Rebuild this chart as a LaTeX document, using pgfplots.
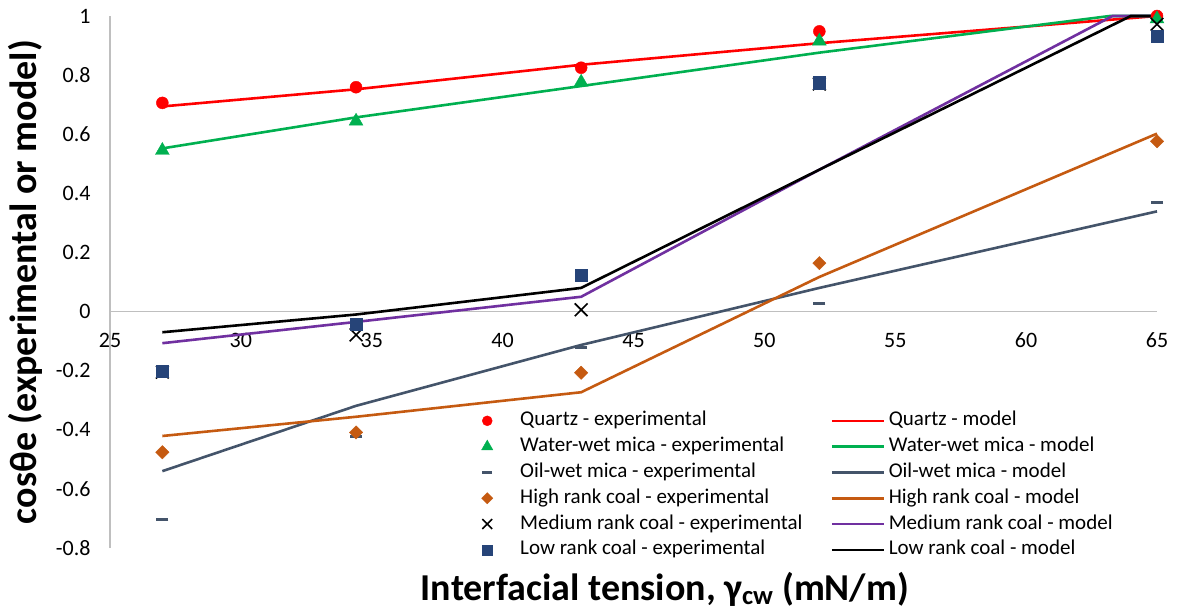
\documentclass[border=0pt]{standalone}
\usepackage{fontspec}
\setmainfont{Carlito}
\usepackage{pgfplots}
\pgfplotsset{compat=1.18}
\definecolor{cQ}{HTML}{FF0000}
\definecolor{cW}{HTML}{00B050}
\definecolor{cO}{HTML}{44546A}
\definecolor{cH}{HTML}{C55A11}
\definecolor{cM}{HTML}{7030A0}
\definecolor{cL}{HTML}{264478}
\definecolor{axgray}{HTML}{BFBFBF}
\pgfplotsset{
  expleg/.style={legend image code/.code={\path[draw=none,fill=none] (0pt,-6pt) rectangle (43pt,6pt); \draw[##1] plot coordinates {(10pt,0pt)};}},
  modleg/.style={legend image code/.code={\path[draw=none,fill=none] (0pt,-6pt) rectangle (57pt,6pt); \draw[##1] (0pt,0pt) -- (52pt,0pt);}},
}
\begin{document}
\begin{tikzpicture}
\begin{axis}[
  scale only axis, width=1047pt, height=532pt,
  xmin=25, xmax=65, ymin=-0.8, ymax=1,
  clip=false,
  axis x line=middle, axis y line=left,
  hide obscured x ticks=false, hide obscured y ticks=false,
  axis line style={draw=axgray, line width=1.5pt, -},
  xtick={25,30,35,40,45,50,55,60,65},
  ytick={-0.8,-0.6,-0.4,-0.2,0,0.2,0.4,0.6,0.8,1},
  major tick length=0pt,
  /pgf/number format/assume math mode=true,
  tick label style={font=\fontsize{22}{22}\selectfont, text=black},
  xticklabel style={yshift=-18pt},
  yticklabel style={xshift=-16pt},
  every axis y label/.style={at={(axis description cs:0,0.5)}, xshift=-73pt, rotate=90, anchor=base, font=\fontsize{38}{38}\selectfont\bfseries},
  every axis x label/.style={at={(axis description cs:0.53,0)}, yshift=-52pt, anchor=base, font=\fontsize{38}{38}\selectfont\bfseries},
  ylabel={cosθe (experimental or model)},
  xlabel={Interfacial tension, γ\textsubscript{cw} (mN/m)},
  legend columns=2,
  legend cell align=left,
  legend style={draw=none, fill=none, at={(axis description cs:0.3477,0.262)}, anchor=north west,
    font=\fontsize{21}{21}\selectfont,
    nodes={inner sep=0pt, text height=15pt, text depth=5pt},
    row sep=5.8pt,
    /tikz/every even column/.append style={column sep=28pt}},
]
% model lines
\addplot[forget plot, cQ, line width=2.6pt] coordinates {(27,0.694)(34.4,0.752)(43,0.835)(52.1,0.908)(65,1.0)};
\addplot[forget plot, cW, line width=2.6pt] coordinates {(27,0.552)(34.4,0.657)(43,0.763)(52.1,0.876)(63.2,1.0)(65,1.0)};
\addplot[forget plot, cO, line width=2.6pt] coordinates {(27,-0.54)(34.4,-0.319)(43,-0.113)(52.1,0.08)(65,0.339)};
\addplot[forget plot, cH, line width=2.6pt] coordinates {(27,-0.421)(34.4,-0.356)(43,-0.273)(52.1,0.117)(65,0.602)};
\addplot[forget plot, cM, line width=2.6pt] coordinates {(27,-0.107)(34.4,-0.035)(43,0.05)(52.1,0.48)(63.3,1.0)(65,1.0)};
\addplot[forget plot, black, line width=2.6pt] coordinates {(27,-0.07)(34.4,-0.01)(43,0.08)(52.1,0.48)(64,1.0)(65,1.0)};
% experimental
\addplot[forget plot, only marks, mark=*, mark size=6pt, cQ, mark options={draw=cQ, fill=cQ}] coordinates {(27,0.706)(34.4,0.759)(43,0.825)(52.1,0.948)(65,1.0)};
\addplot[forget plot, only marks, mark=triangle*, mark size=8pt, cW, mark options={draw=cW, fill=cW}] coordinates {(27,0.545)(34.4,0.644)(43,0.776)(52.1,0.915)(65,0.99)};
\addplot[forget plot, only marks, mark=-, mark size=6pt, cO, mark options={line width=3pt}] coordinates {(27,-0.703)(34.4,-0.424)(43,-0.122)(52.1,0.028)(65,0.368)};
\addplot[forget plot, only marks, mark=square*, mark size=4.7pt, cH, mark options={rotate=45, draw=cH, fill=cH}] coordinates {(27,-0.476)(34.4,-0.409)(43,-0.207)(52.1,0.164)(65,0.576)};
\addplot[forget plot, only marks, mark=x, mark size=9pt, black, mark options={line width=1.6pt}] coordinates {(27,-0.205)(34.4,-0.079)(43,0.006)(52.1,0.77)(65,0.972)};
\addplot[forget plot, only marks, mark=square*, mark size=6.2pt, cL, mark options={draw=cL, fill=cL}] coordinates {(27,-0.201)(34.4,-0.043)(43,0.122)(52.1,0.774)(65,0.932)};
% legend
\addlegendimage{expleg, only marks, mark=*, mark size=5pt, cQ}
\addlegendentry{Quartz - experimental}
\addlegendimage{modleg, cQ, line width=2.6pt}
\addlegendentry{Quartz - model}
\addlegendimage{expleg, only marks, mark=triangle*, mark size=6.5pt, cW}
\addlegendentry{Water-wet mica - experimental}
\addlegendimage{modleg, cW, line width=2.6pt}
\addlegendentry{Water-wet mica - model}
\addlegendimage{expleg, only marks, mark=-, mark size=5pt, cO, mark options={line width=3pt}}
\addlegendentry{Oil-wet mica - experimental}
\addlegendimage{modleg, cO, line width=2.6pt}
\addlegendentry{Oil-wet mica - model}
\addlegendimage{expleg, only marks, mark=square*, mark size=4pt, cH, mark options={rotate=45}}
\addlegendentry{High rank coal - experimental}
\addlegendimage{modleg, cH, line width=2.6pt}
\addlegendentry{High rank coal - model}
\addlegendimage{expleg, only marks, mark=x, mark size=7pt, black, mark options={line width=1.5pt}}
\addlegendentry{Medium rank coal - experimental}
\addlegendimage{modleg, cM, line width=2.6pt}
\addlegendentry{Medium rank coal - model}
\addlegendimage{expleg, only marks, mark=square*, mark size=5pt, cL}
\addlegendentry{Low rank coal - experimental}
\addlegendimage{modleg, black, line width=2.6pt}
\addlegendentry{Low rank coal - model}
\end{axis}
\pgfresetboundingbox
\path[use as bounding box] (-110pt,-65pt) rectangle (1070pt,548pt);
\end{tikzpicture}
\end{document}
